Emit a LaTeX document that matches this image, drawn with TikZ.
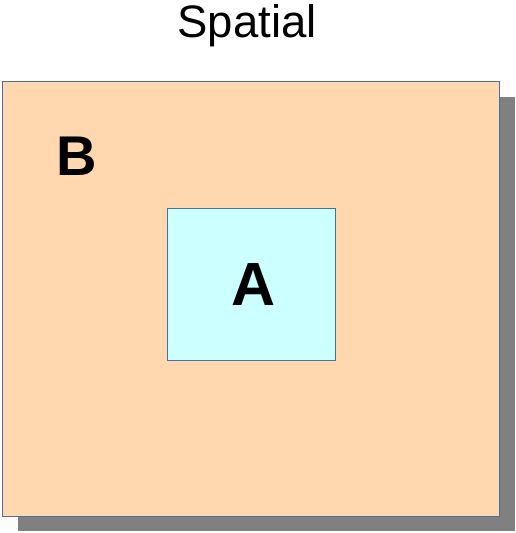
\documentclass[tikz,border=0pt]{standalone}
\usepackage{fontspec}
\setmainfont{Liberation Sans}
\definecolor{peach}{HTML}{FFD8B0}
\definecolor{cyanlight}{HTML}{CCFFFF}
\definecolor{edge}{HTML}{4A6FA5}
\definecolor{shadowgray}{HTML}{808080}
\begin{document}
\begin{tikzpicture}[x=1pt,y=-1pt,
  box/.style={draw=edge,line width=0.9pt},
  lbl/.style={anchor=base,inner sep=0pt,font=\bfseries}]
\useasboundingbox (0,0) rectangle (516,533);
\fill[shadowgray] (18,97) rectangle (515,531);
\draw[box,fill=peach] (2.5,81.5) rectangle (499,516);
\node[box,fill=cyanlight,minimum width=168pt,minimum height=152pt,inner sep=0pt,anchor=north west] (A) at (167,208) {};
\node[lbl,font=\fontsize{56}{62}\selectfont\bfseries] (Blabel) at (77,175.5) {B};
\node[lbl,font=\fontsize{61}{67}\selectfont\bfseries] (Alabel) at (253.5,305) {A};
\node[anchor=base,inner sep=0pt,font=\fontsize{45.5}{52}\selectfont] (title) at (247,37.5) {Spatial};
\end{tikzpicture}
\end{document}
